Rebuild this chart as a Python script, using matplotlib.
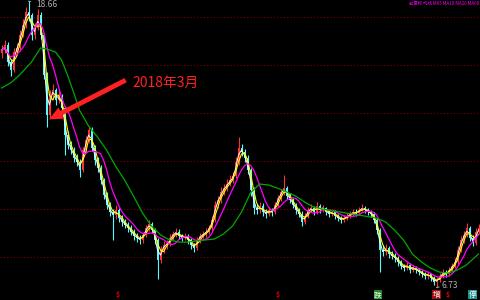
import numpy as np
import pandas as pd
import matplotlib
matplotlib.use('Agg')
import matplotlib.pyplot as plt

plt.rcParams['font.family'] = ['Noto Sans CJK SC', 'DejaVu Sans']

# 日K线数据
first_open = 16.50
closes = [
    16.62, 16.83, 16.12, 15.79, 16.54, 16.71, 17.25, 17.67, 18.21, 18.08,
    17.25, 17.54, 18.08, 17.25, 15.58, 13.92, 14.75, 14.96, 14.54, 14.71,
    14.21, 13.08, 12.67, 12.46, 12.12, 11.96, 11.62, 12.46, 12.87, 13.29,
    12.54, 12.04, 11.71, 11.21, 10.58, 10.17, 9.87, 9.75, 9.96, 9.62,
    9.46, 9.33, 9.21, 9.04, 8.87, 8.79, 8.71, 8.92, 9.21, 9.37,
    9.12, 8.71, 7.87, 8.29, 8.50, 8.54, 8.79, 8.96, 9.04, 8.87,
    8.79, 8.87, 8.71, 8.50, 8.37, 8.71, 8.87, 8.96, 9.04, 9.21,
    9.54, 10.17, 10.38, 10.71, 10.87, 11.04, 11.21, 11.37, 11.96, 12.54,
    12.37, 12.12, 11.62, 10.79, 10.04, 9.96, 10.12, 9.87, 9.79, 9.96,
    9.87, 10.17, 10.46, 10.71, 10.87, 10.54, 10.38, 10.17, 9.96, 9.79,
    9.46, 9.71, 9.96, 10.04, 9.87, 10.12, 9.96, 10.04, 9.87, 9.79,
    9.87, 9.71, 9.62, 9.54, 9.62, 9.71, 9.79, 9.87, 9.83, 9.96,
    10.04, 9.96, 9.87, 9.79, 9.54, 9.12, 8.29, 8.21, 8.37, 8.12,
    8.04, 7.96, 7.79, 7.62, 7.54, 7.67, 7.46, 7.54, 7.46, 7.37,
    7.29, 7.21, 7.29, 7.12, 6.96, 7.04, 7.21, 7.37, 7.29, 7.46,
    7.62, 7.79, 8.29, 8.71, 8.92, 9.21, 8.79, 8.58, 9.04, 9.21,
]
highs = [
    16.85, 17.05, 16.95, 16.25, 16.70, 16.90, 17.45, 17.90, 18.40, 18.66,
    18.15, 17.75, 18.35, 18.20, 17.35, 15.70, 14.95, 15.20, 15.05, 14.95,
    14.80, 14.30, 13.25, 12.85, 12.60, 12.30, 12.10, 12.60, 13.05, 13.45,
    13.40, 12.65, 12.15, 11.85, 11.30, 10.70, 10.30, 10.00, 10.15, 10.05,
    9.75, 9.60, 9.45, 9.35, 9.15, 9.00, 8.90, 9.05, 9.35, 9.55,
    9.45, 9.20, 8.80, 8.45, 8.65, 8.70, 8.95, 9.10, 9.20, 9.15,
    8.95, 9.00, 8.95, 8.80, 8.60, 8.85, 9.00, 9.10, 9.20, 9.35,
    9.70, 10.35, 10.55, 10.90, 11.05, 11.25, 11.40, 11.55, 12.15, 13.00,
    12.70, 12.50, 12.25, 11.70, 10.90, 10.20, 10.30, 10.25, 10.00, 10.10,
    10.05, 10.30, 10.60, 10.85, 11.42, 10.95, 10.65, 10.45, 10.25, 10.05,
    9.90, 9.85, 10.10, 10.20, 10.12, 10.28, 10.20, 10.18, 10.10, 9.95,
    10.00, 9.95, 9.80, 9.70, 9.75, 9.85, 9.92, 10.00, 9.98, 10.10,
    10.20, 10.12, 10.05, 9.95, 9.88, 9.62, 9.20, 8.50, 8.55, 8.45,
    8.25, 8.15, 8.05, 7.88, 7.72, 7.80, 7.75, 7.65, 7.62, 7.55,
    7.45, 7.38, 7.40, 7.35, 7.20, 7.15, 7.32, 7.50, 7.45, 7.58,
    7.75, 7.95, 8.45, 8.88, 9.10, 9.40, 9.30, 8.90, 9.20, 9.38,
]
lows = [
    16.30, 16.50, 15.95, 15.55, 15.70, 16.40, 16.60, 17.15, 17.55, 17.85,
    17.05, 17.10, 17.45, 17.10, 15.40, 13.42, 13.80, 14.55, 14.35, 14.40,
    14.00, 12.25, 12.50, 12.30, 11.95, 11.80, 11.33, 11.55, 12.35, 12.75,
    12.40, 11.85, 11.55, 11.05, 10.40, 10.00, 9.70, 8.71, 9.60, 9.45,
    9.30, 9.20, 9.05, 8.90, 8.70, 8.62, 8.55, 8.60, 8.85, 9.10,
    9.00, 8.55, 7.08, 7.75, 8.15, 8.35, 8.45, 8.70, 8.85, 8.75,
    8.65, 8.70, 8.55, 8.35, 8.20, 8.30, 8.60, 8.80, 8.85, 8.95,
    9.10, 9.45, 10.05, 10.25, 10.60, 10.75, 10.95, 11.10, 11.30, 11.85,
    12.20, 11.95, 11.45, 10.55, 9.80, 9.80, 9.85, 9.70, 9.62, 9.70,
    9.72, 9.80, 10.10, 10.35, 10.60, 10.40, 10.25, 10.05, 9.80, 9.65,
    9.30, 9.38, 9.62, 9.88, 9.75, 9.80, 9.85, 9.88, 9.75, 9.68,
    9.70, 9.60, 9.50, 9.42, 9.45, 9.55, 9.62, 9.72, 9.72, 9.75,
    9.90, 9.85, 9.75, 9.65, 9.40, 8.95, 7.38, 8.05, 8.10, 7.95,
    7.90, 7.80, 7.62, 7.48, 7.40, 7.45, 7.32, 7.38, 7.35, 7.25,
    7.15, 7.08, 7.10, 7.00, 6.82, 6.73, 6.95, 7.12, 7.18, 7.22,
    7.40, 7.55, 7.72, 8.20, 8.60, 8.85, 8.65, 8.45, 8.50, 8.95,
]

# 60日均线
ma60_idx = [0, 3, 6, 10, 13, 15, 18, 20, 22, 24, 26, 29, 32, 35, 38, 41, 44, 47,
            50, 53, 56, 59, 62, 65, 68, 71, 74, 77, 80, 83, 86, 89, 92, 95, 98,
            101, 104, 107, 113, 119, 125, 128, 131, 134, 137, 140, 143, 146,
            149, 152, 155, 159]
ma60_val = [15.04, 15.25, 15.58, 16.12, 16.71, 16.67, 16.54, 16.21, 15.58, 14.87,
            14.12, 13.46, 13.00, 12.46, 11.79, 11.21, 10.54, 9.83, 9.29, 8.92,
            8.71, 8.62, 8.62, 8.67, 8.71, 8.75, 8.96, 9.29, 9.87, 10.67, 11.04,
            11.00, 10.87, 10.71, 10.54, 10.29, 10.08, 10.00, 9.87, 9.75, 9.62,
            9.46, 9.12, 8.71, 8.12, 7.79, 7.54, 7.37, 7.33, 7.46, 7.67, 8.12]

max_label = '18.66'
min_label = '6.73'
note_text = '2018年3月'
title_text = '前复权 均线 MA5 MA10 MA20 MA60'

UP_COLOR = '#FF3232'
DOWN_COLOR = '#54FCFC'

df = pd.DataFrame({'close': closes, 'high': highs, 'low': lows})
df['open'] = df['close'].shift(1).fillna(first_open)
x = np.arange(len(df))

fig = plt.figure(figsize=(4.8, 3.0), dpi=100, facecolor='black')
ax = fig.add_axes([0, 0, 1, 1], facecolor='black')

# 网格（红色虚点线）
for level in [8, 10, 12, 14, 16, 18]:
    ax.axhline(level, color='#7A0000', lw=0.8, ls=(0, (1, 2)), zorder=0)

# K线
up = df['close'] >= df['open']
colors = np.where(up, UP_COLOR, DOWN_COLOR)
ax.vlines(x, df['low'], df['high'], colors=colors, lw=0.8, zorder=2)
body = (df['close'] - df['open']).abs().clip(lower=0.03)
ax.bar(x, body, bottom=df[['open', 'close']].min(axis=1), width=0.65,
       color=colors, linewidth=0, zorder=2)

# 均线
ma_a = df['close'].rolling(2, min_periods=1).mean()
ma_b = df['close'].rolling(3, min_periods=1).mean()
ma_c = df['close'].rolling(7, min_periods=1).mean()
ax.plot(x, ma_a, color='white', lw=0.7, zorder=3)
ax.plot(x, ma_b, color='#FFFF00', lw=0.8, zorder=3)
ax.plot(x, ma_c, color='#FF00FF', lw=0.9, zorder=3)
ax.plot(ma60_idx, ma60_val, color='#00A800', lw=0.9, zorder=3)

ax.set_xlim(-0.5, len(df) - 0.5)
ax.set_ylim(6.208, 18.708)
ax.axis('off')

# 最高/最低价标注
hi_i = int(np.argmax(highs))
lo_i = int(np.argmin(lows))
ax.annotate(max_label, xy=(hi_i, highs[hi_i]), xytext=(hi_i + 2.6, highs[hi_i] - 0.12),
            color='#B0B0B0', fontsize=6, va='center', ha='left',
            arrowprops=dict(arrowstyle='-', color='#B0B0B0', lw=0.7))
ax.annotate(min_label, xy=(lo_i, lows[lo_i]), xytext=(lo_i + 1.8, lows[lo_i] + 0.10),
            color='#B0B0B0', fontsize=6, va='center', ha='left',
            arrowprops=dict(arrowstyle='-', color='#B0B0B0', lw=0.7))

# 底部信息地雷标记
mark_y = 6.42
for xi in [38.6, 92.0, 148.6]:
    ax.text(xi, mark_y, '$', color='#E00000', fontsize=5, ha='center', va='center',
            fontweight='bold')
ax.text(125.5, mark_y, '跌', color='white', fontsize=5.5, ha='center', va='center',
        bbox=dict(boxstyle='square,pad=0.06', fc='#1E8C1E', ec='none'))
ax.text(145.0, mark_y, '增', color='white', fontsize=5.5, ha='center', va='center',
        bbox=dict(boxstyle='square,pad=0.06', fc='#A01010', ec='none'))
ax.text(157.0, mark_y, '停', color='white', fontsize=5.5, ha='center', va='center',
        bbox=dict(boxstyle='square,pad=0.06', fc='#1E9090', ec='none'))

# 箭头注释
ax.annotate('', xy=(15.0, 13.68), xytext=(42.2, 15.42),
            arrowprops=dict(arrowstyle='simple,head_length=1.0,head_width=0.9,tail_width=0.35',
                            color='#FF2020', lw=0))
ax.text(43.8, 15.25, note_text, color='#FF2020', fontsize=10, va='center', ha='left')

# 右上角标题（很小）
fig.text(0.998, 0.997, title_text, color='#FF00FF', fontsize=3.2,
         ha='right', va='top')

fig.savefig('out.png', dpi=100, facecolor='black')
